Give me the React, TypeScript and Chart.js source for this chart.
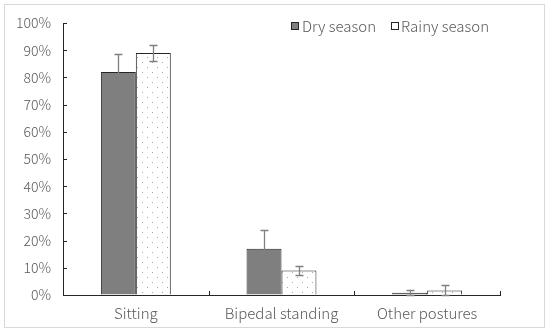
import React, { useEffect, useRef } from "react";
import { Chart, registerables } from "chart.js";

Chart.register(...registerables);

const categories = ["Sitting", "Bipedal standing", "Other postures"];
const seriesNames = ["Dry season", "Rainy season"];
const dryValues = [0.82, 0.17, 0.008];
const rainyValues = [0.89, 0.09, 0.017];
const dryErrors = [0.065, 0.07, 0.009];
const rainyErrors = [0.03, 0.017, 0.018];
const yTicks = [0, 0.1, 0.2, 0.3, 0.4, 0.5, 0.6, 0.7, 0.8, 0.9, 1.0];

const FONT = "'Noto Sans CJK SC', 'Noto Sans', sans-serif";
const TEXT = "#595959";
const DRY_FILL = "#7f7f7f";
const EDGE = "#262626";

function makeDotPattern(): CanvasPattern | string {
  const c = document.createElement("canvas");
  c.width = 10;
  c.height = 10;
  const g = c.getContext("2d");
  if (!g) return "#fff";
  g.fillStyle = "#ffffff";
  g.fillRect(0, 0, 10, 10);
  g.fillStyle = "#a6a6a6";
  g.fillRect(2, 2, 1, 1);
  g.fillRect(7, 7, 1, 1);
  const p = g.createPattern(c, "repeat");
  return p || "#fff";
}

export default function App() {
  const ref = useRef<HTMLCanvasElement | null>(null);

  useEffect(() => {
    if (!ref.current) return;
    const pattern = makeDotPattern();
    const errors = [dryErrors, rainyErrors];

    const decor = {
      id: "decor",
      beforeDraw(chart: any) {
        const { ctx, width, height } = chart;
        ctx.save();
        ctx.fillStyle = "#fff";
        ctx.fillRect(0, 0, width, height);
        ctx.strokeStyle = "#d9d9d9";
        ctx.lineWidth = 1;
        ctx.strokeRect(4.5, 4.5, 540, 323);
        ctx.restore();
      },
      afterDatasetsDraw(chart: any) {
        const { ctx } = chart;
        const y = chart.scales.y;
        ctx.save();
        ctx.strokeStyle = "#808080";
        ctx.lineWidth = 1.3;
        chart.data.datasets.forEach((ds: any, di: number) => {
          const meta = chart.getDatasetMeta(di);
          meta.data.forEach((bar: any, i: number) => {
            const v = ds.data[i];
            const e = errors[di][i];
            const yTop = Math.round(y.getPixelForValue(v + e)) + 0.5;
            const yBot = Math.round(y.getPixelForValue(v - e)) + 0.5;
            const x = Math.round(bar.x) + 0.5;
            ctx.beginPath();
            ctx.moveTo(x, yTop);
            ctx.lineTo(x, yBot);
            ctx.moveTo(x - 4, yTop);
            ctx.lineTo(x + 4, yTop);
            ctx.moveTo(x - 4, yBot);
            ctx.lineTo(x + 4, yBot);
            ctx.stroke();
          });
        });
        ctx.restore();
      },
      afterDraw(chart: any) {
        const { ctx, chartArea } = chart;
        const y = chart.scales.y;
        ctx.save();
        ctx.strokeStyle = EDGE;
        ctx.lineWidth = 1;
        yTicks.forEach((t) => {
          const py = Math.round(y.getPixelForValue(t)) + 0.5;
          ctx.beginPath();
          ctx.moveTo(chartArea.left, py);
          ctx.lineTo(chartArea.left + 4, py);
          ctx.stroke();
        });
        const n = categories.length;
        for (let i = 0; i <= n; i++) {
          const px = Math.round(chartArea.left + ((chartArea.right - chartArea.left) * i) / n) + 0.5;
          ctx.beginPath();
          ctx.moveTo(px, chartArea.bottom);
          ctx.lineTo(px, chartArea.bottom - 4);
          ctx.stroke();
        }
        const fills = [DRY_FILL, "#ffffff"];
        const boxX = [291, 391];
        const textX = [302, 401];
        ctx.font = `300 15px ${FONT}`;
        ctx.textBaseline = "middle";
        ctx.textAlign = "left";
        seriesNames.forEach((name, i) => {
          ctx.fillStyle = fills[i];
          ctx.fillRect(boxX[i] + 0.5, 22.5, 7, 7);
          ctx.strokeStyle = EDGE;
          ctx.strokeRect(boxX[i] + 0.5, 22.5, 7, 7);
          ctx.fillStyle = TEXT;
          ctx.fillText(name, textX[i], 26.5);
        });
        ctx.restore();
      },
    };

    const chart = new Chart(ref.current, {
      type: "bar",
      data: {
        labels: categories,
        datasets: [
          {
            label: seriesNames[0],
            data: dryValues,
            backgroundColor: DRY_FILL,
            borderColor: EDGE,
            borderWidth: 1,
          },
          {
            label: seriesNames[1],
            data: rainyValues,
            backgroundColor: pattern as any,
            borderColor: EDGE,
            borderWidth: 1,
          },
        ],
      },
      options: {
        animation: false,
        responsive: false,
        maintainAspectRatio: false,
        layout: { padding: { left: 0, top: 23, right: 50, bottom: 0 } },
        plugins: {
          legend: { display: false },
          tooltip: { enabled: false },
        },
        datasets: {
          bar: { categoryPercentage: 0.48, barPercentage: 1 },
        },
        scales: {
          x: {
            grid: { display: false, drawTicks: false },
            border: { display: true, color: EDGE, width: 1 },
            ticks: {
              color: TEXT,
              font: { family: FONT, size: 15, weight: "300" as any },
              padding: 9,
              maxRotation: 0,
            },
            afterFit(scale: any) {
              scale.height = 39;
            },
          },
          y: {
            min: 0,
            max: 1,
            afterBuildTicks(scale: any) {
              scale.ticks = yTicks.map((v) => ({ value: v }));
            },
            grid: { drawOnChartArea: false, drawTicks: false },
            border: { display: true, color: EDGE, width: 1 },
            ticks: {
              color: TEXT,
              font: { family: FONT, size: 14, weight: "300" as any },
              padding: 12,
              callback: (v: any) => `${Math.round(Number(v) * 100)}%`,
            },
            afterFit(scale: any) {
              scale.width = 63;
            },
          },
        },
      },
      plugins: [decor],
    });

    return () => chart.destroy();
  }, []);

  return (
    <div style={{ position: "fixed", left: 0, top: 0, width: 550, height: 334, background: "#fff" }}>
      <canvas ref={ref} width={550} height={334} style={{ width: 550, height: 334, display: "block" }} />
    </div>
  );
}
